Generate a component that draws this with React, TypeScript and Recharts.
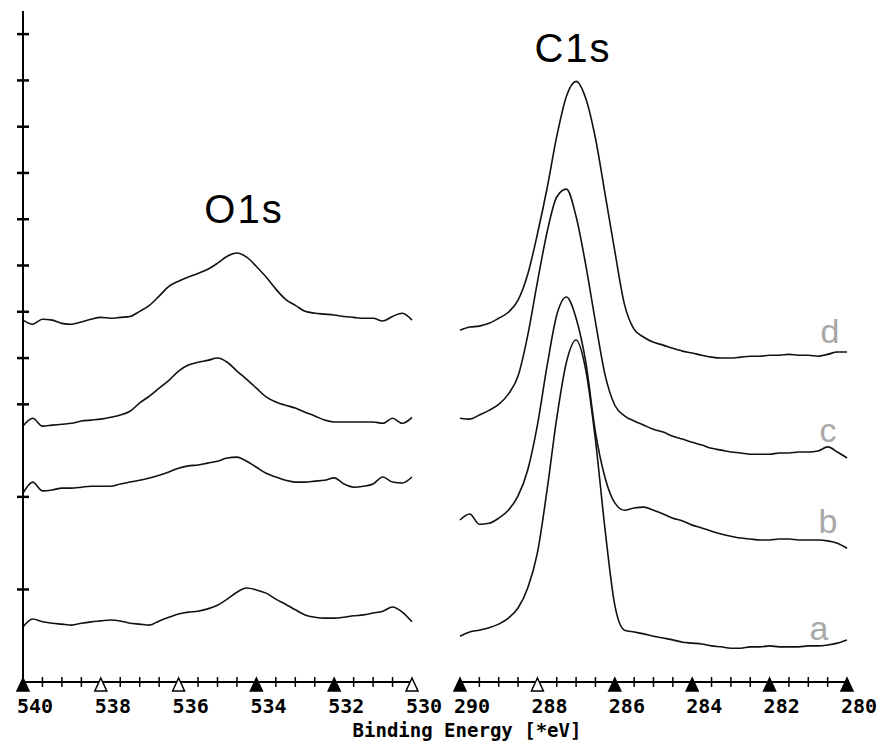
import { LineChart, Line, XAxis, YAxis } from "recharts";

// binding energies (eV), 0.25 eV steps
const O1S_EV = [540, 539.75, 539.5, 539.25, 539, 538.75, 538.5, 538.25, 538, 537.75, 537.5, 537.25, 537, 536.75, 536.5, 536.25, 536, 535.75, 535.5, 535.25, 535, 534.75, 534.5, 534.25, 534, 533.75, 533.5, 533.25, 533, 532.75, 532.5, 532.25, 532, 531.75, 531.5, 531.25, 531, 530.75, 530.5, 530.25, 530];
const C1S_EV = [290, 289.75, 289.5, 289.25, 289, 288.75, 288.5, 288.25, 288, 287.75, 287.5, 287.25, 287, 286.75, 286.5, 286.25, 286, 285.75, 285.5, 285.25, 285, 284.75, 284.5, 284.25, 284, 283.75, 283.5, 283.25, 283, 282.75, 282.5, 282.25, 282, 281.75, 281.5, 281.25, 281, 280.75, 280.5, 280.25, 280];

// intensities (offset traces, arbitrary units)
const O1S_A = [1.19, 1.36, 1.30, 1.27, 1.25, 1.23, 1.27, 1.30, 1.32, 1.34, 1.32, 1.27, 1.25, 1.23, 1.32, 1.40, 1.47, 1.51, 1.53, 1.58, 1.66, 1.79, 1.94, 2.03, 1.99, 1.92, 1.79, 1.68, 1.56, 1.45, 1.40, 1.38, 1.38, 1.40, 1.43, 1.45, 1.49, 1.53, 1.62, 1.51, 1.30];
const O1S_B = [4.08, 4.32, 4.13, 4.15, 4.19, 4.19, 4.21, 4.23, 4.23, 4.23, 4.28, 4.32, 4.36, 4.41, 4.47, 4.54, 4.62, 4.67, 4.69, 4.73, 4.77, 4.84, 4.86, 4.77, 4.64, 4.51, 4.43, 4.36, 4.32, 4.32, 4.34, 4.36, 4.41, 4.28, 4.21, 4.23, 4.28, 4.43, 4.32, 4.30, 4.43];
const O1S_C = [5.53, 5.70, 5.53, 5.55, 5.57, 5.59, 5.64, 5.66, 5.68, 5.72, 5.77, 5.85, 6.03, 6.18, 6.35, 6.52, 6.72, 6.85, 6.91, 6.95, 7.00, 6.91, 6.72, 6.54, 6.35, 6.16, 6.05, 5.98, 5.92, 5.83, 5.75, 5.66, 5.62, 5.62, 5.62, 5.62, 5.62, 5.59, 5.70, 5.59, 5.72];
const O1S_D = [7.82, 7.73, 7.84, 7.82, 7.75, 7.73, 7.78, 7.84, 7.88, 7.86, 7.88, 7.90, 8.01, 8.14, 8.34, 8.55, 8.66, 8.75, 8.83, 8.92, 9.05, 9.20, 9.27, 9.18, 8.98, 8.75, 8.49, 8.27, 8.14, 8.01, 7.97, 7.95, 7.93, 7.90, 7.88, 7.86, 7.86, 7.80, 7.90, 7.97, 7.82];

const C1S_A = [0.99, 1.08, 1.12, 1.17, 1.25, 1.38, 1.60, 2.03, 2.79, 4.15, 5.70, 6.91, 7.39, 6.74, 5.23, 3.28, 1.66, 1.12, 1.08, 1.04, 0.99, 0.95, 0.91, 0.86, 0.84, 0.82, 0.78, 0.76, 0.73, 0.73, 0.76, 0.76, 0.78, 0.76, 0.76, 0.76, 0.78, 0.78, 0.80, 0.84, 0.91];
const C1S_B = [3.50, 3.63, 3.41, 3.43, 3.54, 3.71, 4.02, 4.58, 5.55, 6.83, 7.93, 8.32, 7.86, 6.91, 5.40, 4.41, 3.87, 3.71, 3.76, 3.78, 3.71, 3.63, 3.54, 3.48, 3.39, 3.33, 3.26, 3.20, 3.15, 3.11, 3.09, 3.07, 3.07, 3.09, 3.09, 3.07, 3.07, 3.07, 3.05, 3.00, 2.89];
const C1S_C = [5.70, 5.68, 5.77, 5.87, 6.00, 6.22, 6.61, 7.49, 8.64, 9.72, 10.48, 10.65, 10.06, 9.01, 7.78, 6.63, 5.98, 5.75, 5.64, 5.55, 5.46, 5.40, 5.31, 5.25, 5.18, 5.12, 5.05, 5.01, 4.97, 4.95, 4.92, 4.92, 4.92, 4.95, 4.95, 4.97, 4.97, 4.99, 5.08, 4.97, 4.84];
const C1S_D = [7.60, 7.67, 7.69, 7.75, 7.86, 7.99, 8.25, 8.81, 9.68, 10.67, 11.79, 12.66, 12.98, 12.61, 11.75, 10.54, 9.31, 8.16, 7.62, 7.45, 7.34, 7.28, 7.21, 7.15, 7.11, 7.06, 7.02, 7.00, 7.00, 7.02, 7.04, 7.04, 7.06, 7.06, 7.08, 7.06, 7.06, 7.04, 7.08, 7.13, 7.13];

// axis ticks
const Y_TICKS = [2, 4, 6, 7, 8, 9, 10, 11, 12, 13, 14];
const O1S_TICKS = [540, 539.5, 539, 538.5, 538, 537.5, 537, 536.5, 536, 535.5, 535, 534.5, 534, 533.5, 533, 532.5, 532, 531.5, 531, 530.5, 530];
const C1S_TICKS = [290, 289.5, 289, 288.5, 288, 287.5, 287, 286.5, 286, 285.5, 285, 284.5, 284, 283.5, 283, 282.5, 282, 281.5, 281, 280.5, 280];
const O1S_FILLED = [540, 534, 532];
const C1S_FILLED = [290, 286, 284, 282, 280];
const SERIES = ["a", "b", "c", "d"];

const MONO = '"DejaVu Sans Mono", monospace';
const SANS = '"Liberation Sans", Arial, sans-serif';

const o1sRows = O1S_EV.map((ev, i) => ({ ev, a: O1S_A[i], b: O1S_B[i], c: O1S_C[i], d: O1S_D[i] }));
const c1sRows = C1S_EV.map((ev, i) => ({ ev, a: C1S_A[i], b: C1S_B[i], c: C1S_C[i], d: C1S_D[i] }));

function YTick(props: any) {
  const { x, y } = props;
  return <line x1={x - 6} x2={x + 6} y1={y} y2={y} stroke="#000" strokeWidth={2.5} />;
}

function xTick(filled: number[]) {
  return (props: any) => {
    const { x, y, payload } = props;
    const v = payload.value;
    if (v % 2 !== 0) {
      return <line x1={x} x2={x} y1={y - 5} y2={y + 5} stroke="#000" strokeWidth={1.5} />;
    }
    const solid = filled.includes(v);
    return (
      <g>
        <path
          d={`M${x},${y - 4} L${x + 6},${y + 9} L${x - 6},${y + 9} Z`}
          fill={solid ? "#000" : "#fff"}
          stroke="#000"
          strokeWidth={1.5}
        />
        <text x={x - 6} y={y + 31} fontFamily={MONO} fontWeight="bold" fontSize={20} fill="#000">
          {v}
        </text>
      </g>
    );
  };
}

const axisLine = { stroke: "#000", strokeWidth: 2 };

export default function App() {
  return (
    <div style={{ position: "absolute", left: 0, top: 0, width: 879, height: 746, background: "#fff" }}>
      <div style={{ position: "absolute", left: 0, top: 0 }}>
        <LineChart width={445} height={746} data={o1sRows} margin={{ top: 11, right: 33, bottom: 34, left: 11 }}>
          <XAxis
            type="number"
            dataKey="ev"
            domain={[530, 540]}
            reversed
            ticks={O1S_TICKS}
            interval={0}
            height={30}
            tickSize={0}
            tickMargin={0}
            tickLine={false}
            axisLine={axisLine}
            tick={xTick(O1S_FILLED)}
          />
          <YAxis
            type="number"
            domain={[0, 14.5]}
            ticks={Y_TICKS}
            interval={0}
            width={12}
            tickSize={0}
            tickMargin={0}
            tickLine={false}
            axisLine={axisLine}
            tick={YTick}
          />
          {SERIES.map((k) => (
            <Line key={k} type="monotone" dataKey={k} stroke="#111" strokeWidth={1.6} dot={false} isAnimationActive={false} />
          ))}
        </LineChart>
      </div>
      <div style={{ position: "absolute", left: 445, top: 0 }}>
        <LineChart width={434} height={746} data={c1sRows} margin={{ top: 11, right: 32, bottom: 34, left: 15 }}>
          <XAxis
            type="number"
            dataKey="ev"
            domain={[280, 290]}
            reversed
            ticks={C1S_TICKS}
            interval={0}
            height={30}
            tickSize={0}
            tickMargin={0}
            tickLine={false}
            axisLine={axisLine}
            tick={xTick(C1S_FILLED)}
          />
          <YAxis type="number" domain={[0, 14.5]} hide />
          {SERIES.map((k) => (
            <Line key={k} type="monotone" dataKey={k} stroke="#111" strokeWidth={1.6} dot={false} isAnimationActive={false} />
          ))}
        </LineChart>
      </div>
      <svg width={879} height={746} style={{ position: "absolute", left: 0, top: 0, pointerEvents: "none" }}>
        <text x={244} y={223} textAnchor="middle" fontFamily={SANS} fontSize={40} letterSpacing={2} fill="#000">O1s</text>
        <text x={573} y={62} textAnchor="middle" fontFamily={SANS} fontSize={40} letterSpacing={2} fill="#000">C1s</text>
        <text x={830} y={343} textAnchor="middle" fontFamily={SANS} fontSize={34} fill="#a8a8a8">d</text>
        <text x={828} y={442} textAnchor="middle" fontFamily={SANS} fontSize={34} fill="#a8a8a8">c</text>
        <text x={828} y={533} textAnchor="middle" fontFamily={SANS} fontSize={34} fill="#a8a8a8">b</text>
        <text x={819} y={640} textAnchor="middle" fontFamily={SANS} fontSize={34} fill="#a8a8a8">a</text>
        <text x={467} y={737} textAnchor="middle" fontFamily={MONO} fontWeight="bold" fontSize={19} fill="#000">
          Binding Energy [*eV]
        </text>
      </svg>
    </div>
  );
}
